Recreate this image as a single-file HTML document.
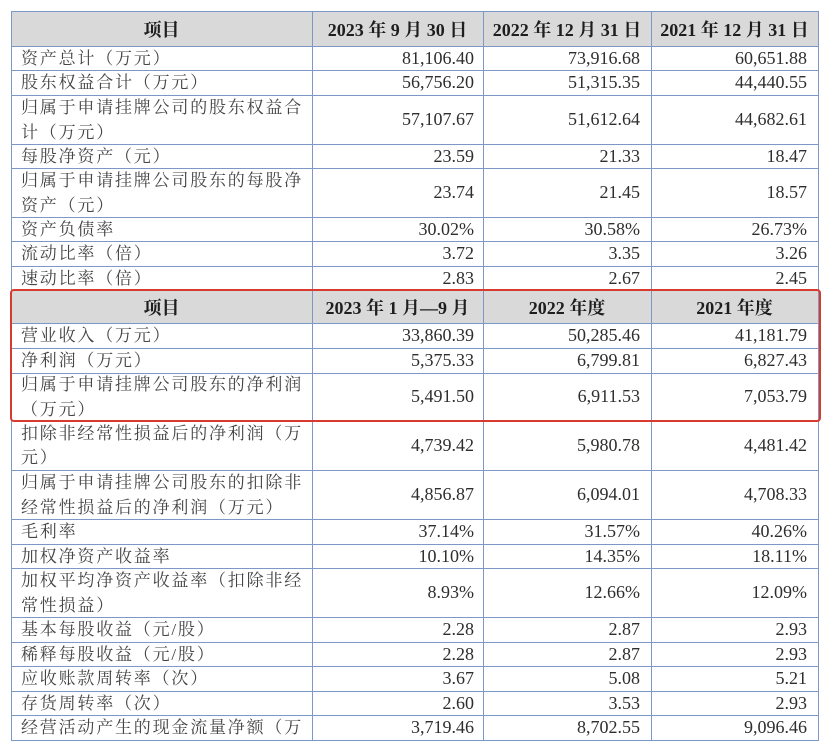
<!DOCTYPE html>
<html>
<head>
<meta charset="utf-8">
<style>
html,body{margin:0;padding:0;background:#fff;}
body{width:826px;height:746px;position:relative;overflow:hidden;}
.hl{position:absolute;left:11px;width:808px;height:1px;background:#7d97c6;}
.vl{position:absolute;top:11px;height:730px;width:1px;background:#7d97c6;}
.bg{position:absolute;left:11px;width:807px;background:#d9d9d9;}
.row{position:absolute;left:0;width:826px;}
.row>div{position:absolute;top:0;height:100%;display:flex;align-items:center;white-space:nowrap;}
.l{left:21px;font-family:"Liberation Serif","Noto Serif CJK SC",serif;font-size:17px;letter-spacing:1.8px;line-height:24.5px;color:#444;padding-top:2px;box-sizing:border-box;}
.n{justify-content:flex-end;font-family:"Liberation Serif","Noto Serif CJK SC",serif;font-size:18px;color:#2e2e2e;}
.c1{left:312px;width:162px;}
.c2{left:483px;width:157px;}
.c3{left:651px;width:156px;}
.h{justify-content:center;font-family:"Liberation Serif","Noto Serif CJK SC",serif;font-size:18px;font-weight:bold;color:#1e1e1e;}
.h0{left:11px;width:301px;}
.h1{left:312px;width:171px;}
.h2{left:483px;width:168px;}
.h3{left:651px;width:167px;}
.red{position:absolute;left:10px;top:289px;width:811px;height:133px;box-sizing:border-box;border:2px solid #d83a2e;border-radius:4px;}
</style>
</head>
<body>
<div class="bg" style="top:11px;height:35px"></div>
<div class="bg" style="top:290px;height:33px"></div>

<div class="hl" style="top:11px"></div>
<div class="hl" style="top:46px"></div>
<div class="hl" style="top:70px"></div>
<div class="hl" style="top:95px"></div>
<div class="hl" style="top:144px"></div>
<div class="hl" style="top:168px"></div>
<div class="hl" style="top:217px"></div>
<div class="hl" style="top:241px"></div>
<div class="hl" style="top:266px"></div>
<div class="hl" style="top:290px"></div>
<div class="hl" style="top:323px"></div>
<div class="hl" style="top:348px"></div>
<div class="hl" style="top:373px"></div>
<div class="hl" style="top:420px"></div>
<div class="hl" style="top:470px"></div>
<div class="hl" style="top:519px"></div>
<div class="hl" style="top:544px"></div>
<div class="hl" style="top:568px"></div>
<div class="hl" style="top:617px"></div>
<div class="hl" style="top:642px"></div>
<div class="hl" style="top:666px"></div>
<div class="hl" style="top:691px"></div>
<div class="hl" style="top:715px"></div>
<div class="hl" style="top:740px"></div>

<div class="vl" style="left:11px"></div>
<div class="vl" style="left:312px"></div>
<div class="vl" style="left:483px"></div>
<div class="vl" style="left:651px"></div>
<div class="vl" style="left:818px"></div>

<div class="row" style="top:11px;height:35px">
<div class="h h0">项目</div>
<div class="h h1">2023 年 9 月 30 日</div>
<div class="h h2">2022 年 12 月 31 日</div>
<div class="h h3">2021 年 12 月 31 日</div>
</div>

<div class="row" style="top:46px;height:24px"><div class="l">资产总计（万元）</div><div class="n c1">81,106.40</div><div class="n c2">73,916.68</div><div class="n c3">60,651.88</div></div>
<div class="row" style="top:70px;height:25px"><div class="l">股东权益合计（万元）</div><div class="n c1">56,756.20</div><div class="n c2">51,315.35</div><div class="n c3">44,440.55</div></div>
<div class="row" style="top:95px;height:49px"><div class="l">归属于申请挂牌公司的股东权益合<br>计（万元）</div><div class="n c1">57,107.67</div><div class="n c2">51,612.64</div><div class="n c3">44,682.61</div></div>
<div class="row" style="top:144px;height:24px"><div class="l">每股净资产（元）</div><div class="n c1">23.59</div><div class="n c2">21.33</div><div class="n c3">18.47</div></div>
<div class="row" style="top:168px;height:49px"><div class="l">归属于申请挂牌公司股东的每股净<br>资产（元）</div><div class="n c1">23.74</div><div class="n c2">21.45</div><div class="n c3">18.57</div></div>
<div class="row" style="top:217px;height:24px"><div class="l">资产负债率</div><div class="n c1">30.02%</div><div class="n c2">30.58%</div><div class="n c3">26.73%</div></div>
<div class="row" style="top:241px;height:25px"><div class="l">流动比率（倍）</div><div class="n c1">3.72</div><div class="n c2">3.35</div><div class="n c3">3.26</div></div>
<div class="row" style="top:266px;height:24px"><div class="l">速动比率（倍）</div><div class="n c1">2.83</div><div class="n c2">2.67</div><div class="n c3">2.45</div></div>

<div class="row" style="top:290px;height:33px">
<div class="h h0">项目</div>
<div class="h h1">2023 年 1 月—9 月</div>
<div class="h h2">2022 年度</div>
<div class="h h3">2021 年度</div>
</div>

<div class="row" style="top:323px;height:25px"><div class="l">营业收入（万元）</div><div class="n c1">33,860.39</div><div class="n c2">50,285.46</div><div class="n c3">41,181.79</div></div>
<div class="row" style="top:348px;height:25px"><div class="l">净利润（万元）</div><div class="n c1">5,375.33</div><div class="n c2">6,799.81</div><div class="n c3">6,827.43</div></div>
<div class="row" style="top:373px;height:47px"><div class="l">归属于申请挂牌公司股东的净利润<br>（万元）</div><div class="n c1">5,491.50</div><div class="n c2">6,911.53</div><div class="n c3">7,053.79</div></div>
<div class="row" style="top:420px;height:50px"><div class="l">扣除非经常性损益后的净利润（万<br>元）</div><div class="n c1">4,739.42</div><div class="n c2">5,980.78</div><div class="n c3">4,481.42</div></div>
<div class="row" style="top:470px;height:49px"><div class="l">归属于申请挂牌公司股东的扣除非<br>经常性损益后的净利润（万元）</div><div class="n c1">4,856.87</div><div class="n c2">6,094.01</div><div class="n c3">4,708.33</div></div>
<div class="row" style="top:519px;height:25px"><div class="l">毛利率</div><div class="n c1">37.14%</div><div class="n c2">31.57%</div><div class="n c3">40.26%</div></div>
<div class="row" style="top:544px;height:24px"><div class="l">加权净资产收益率</div><div class="n c1">10.10%</div><div class="n c2">14.35%</div><div class="n c3">18.11%</div></div>
<div class="row" style="top:568px;height:49px"><div class="l">加权平均净资产收益率（扣除非经<br>常性损益）</div><div class="n c1">8.93%</div><div class="n c2">12.66%</div><div class="n c3">12.09%</div></div>
<div class="row" style="top:617px;height:25px"><div class="l">基本每股收益（元/股）</div><div class="n c1">2.28</div><div class="n c2">2.87</div><div class="n c3">2.93</div></div>
<div class="row" style="top:642px;height:24px"><div class="l">稀释每股收益（元/股）</div><div class="n c1">2.28</div><div class="n c2">2.87</div><div class="n c3">2.93</div></div>
<div class="row" style="top:666px;height:25px"><div class="l">应收账款周转率（次）</div><div class="n c1">3.67</div><div class="n c2">5.08</div><div class="n c3">5.21</div></div>
<div class="row" style="top:691px;height:24px"><div class="l">存货周转率（次）</div><div class="n c1">2.60</div><div class="n c2">3.53</div><div class="n c3">2.93</div></div>
<div class="row" style="top:715px;height:25px"><div class="l">经营活动产生的现金流量净额（万</div><div class="n c1">3,719.46</div><div class="n c2">8,702.55</div><div class="n c3">9,096.46</div></div>

<div class="red"></div>
</body>
</html>
